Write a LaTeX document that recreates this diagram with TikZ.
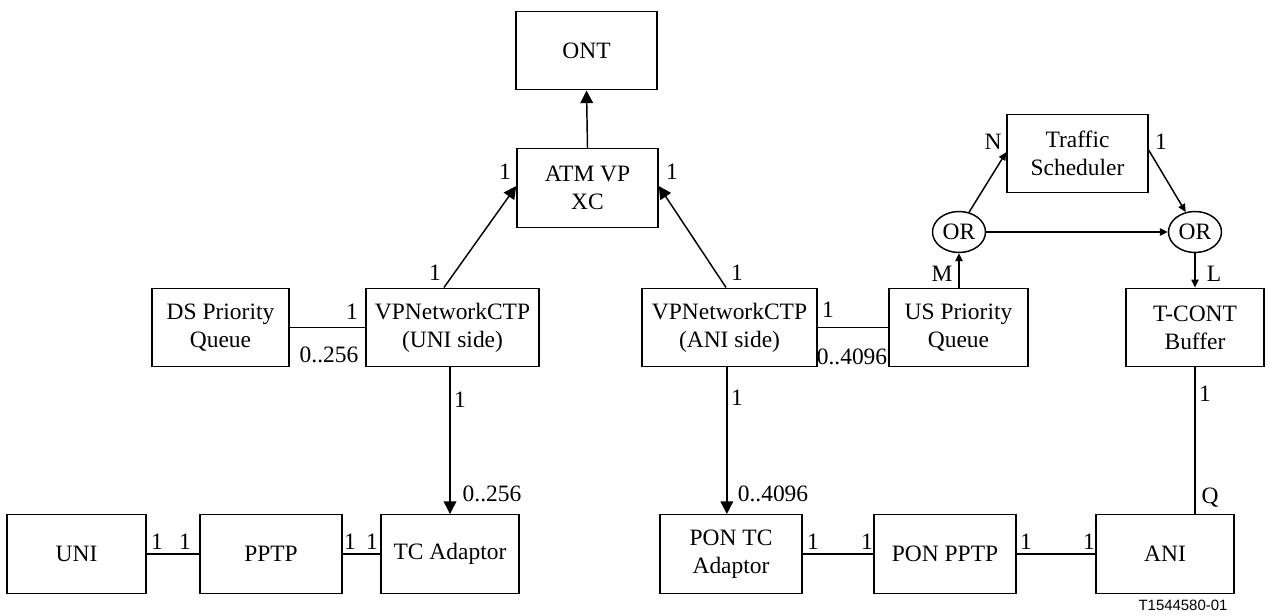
\documentclass[tikz,border=0pt]{standalone}
\usepackage{fontspec}
\setmainfont{Liberation Serif}
\newfontfamily\codefont{Liberation Sans}
\usetikzlibrary{arrows.meta,shapes.geometric}
\begin{document}
\begin{tikzpicture}[x=0.75pt,y=-0.75pt,
  every node/.style={font=\fontsize{17.6}{20.8}\selectfont, inner sep=0pt},
  box/.style={draw, line width=1.1pt, align=center, minimum width=#1*0.75pt, minimum height=78.5*0.75pt},
  gate/.style={draw, ellipse, line width=1.1pt, minimum width=53*0.75pt, minimum height=41*0.75pt},
  lbl/.style={anchor=center},
  conn/.style={line width=1.1pt},
  bigarrow/.style={line width=1.1pt, -{Triangle[length=9.5pt,width=9.5pt]}},
  smallarrow/.style={line width=1.1pt, -{Triangle[length=6pt,width=5.5pt]}}]
\useasboundingbox (0,0) rectangle (1269,616);
% boxes
\node[box=141] (ont) at (586.5,50.5) {ONT};
\node[box=141] (atm) at (587.5,188) {ATM VP\\XC};
\node[box=137] (ds) at (220.5,327.5) {DS Priority\\Queue};
\node[box=173] (vpnu) at (452.5,327.5) {VPNetworkCTP\\(UNI side)};
\node[box=175] (vpna) at (729.5,327.5) {VPNetworkCTP\\(ANI side)};
\node[box=139] (uspq) at (958.5,327.5) {US Priority\\Queue};
\node[box=138] (tcont) at (1195,327.5) {T-CONT\\Buffer};
\node[box=141] (ts) at (1077.5,153.5) {Traffic\\Scheduler};
\node[gate] (or1) at (959,232) {OR};
\node[gate] (or2) at (1195,232) {OR};
\node[box=139] (uni) at (76.5,554) {UNI};
\node[box=142] (pptp) at (271,554) {PPTP};
\node[box=138] (tc) at (450,554) {TC Adaptor};
\node[box=142] (pontc) at (731,554) {PON TC\\Adaptor};
\node[box=142] (ponpptp) at (945,554) {PON PPTP};
\node[box=138] (ani) at (1165,554) {ANI};
% connectors
\draw[bigarrow] (atm.north) -- (ont.south);
\draw[bigarrow] ([xshift=-6.4pt]vpnu.north) -- ([yshift=1.5pt]atm.west);
\draw[bigarrow] ([xshift=-2.6pt]vpna.north) -- ([yshift=1.5pt]atm.east);
\draw[conn] (ds.east) -- (vpnu.west);
\draw[bigarrow] (tc.north |- vpnu.south) -- (tc.north);
\draw[conn] (vpna.east) -- (uspq.west);
\draw[bigarrow] ([xshift=-2pt]vpna.south) -- ([xshift=-2pt]vpna.south |- pontc.north);
\draw[smallarrow] (uspq.north -| or1.south) -- (or1.south);
\draw[smallarrow] (or1.63) -- ([yshift=1pt]ts.west);
\draw[smallarrow] ([yshift=2.5pt]ts.east) -- (or2.115);
\draw[smallarrow] (or1.east) -- (or2.west);
\draw[smallarrow] (or2.south) -- (tcont.north);
\draw[conn] (tcont.south) -- (tcont.south |- ani.north);
\draw[conn] (uni.east) -- (pptp.west);
\draw[conn] (pptp.east) -- (tc.west);
\draw[conn] (pontc.east) -- (ponpptp.west);
\draw[conn] (ponpptp.east) -- (ani.west);
% multiplicity labels
\node[lbl] (l1) at (505,172) {1};
\node[lbl] (l2) at (672,172) {1};
\node[lbl] (l3) at (435,273) {1};
\node[lbl] (l4) at (737,273) {1};
\node[lbl] (l5) at (352,312) {1};
\node[lbl] (l6) at (329,355) {0..256};
\node[lbl] (l7) at (460,400) {1};
\node[lbl] (l8) at (492,494) {0..256};
\node[lbl] (l9) at (828,310) {1};
\node[lbl] (l10) at (852,357) {0..4096};
\node[lbl] (l11) at (737,398) {1};
\node[lbl] (l12) at (773,494) {0..4096};
\node[lbl] (l13) at (942,274) {M};
\node[lbl] (l14) at (1214,274) {L};
\node[lbl] (l15) at (993,142) {N};
\node[lbl] (l16) at (1161,142) {1};
\node[lbl] (l17) at (1205,394) {1};
\node[lbl] (l18) at (1210,498) {Q};
\node[lbl] (l19) at (157,542) {1};
\node[lbl] (l20) at (185,542) {1};
\node[lbl] (l21) at (350,542) {1};
\node[lbl] (l22) at (372,542) {1};
\node[lbl] (l23) at (813,542) {1};
\node[lbl] (l24) at (867,542) {1};
\node[lbl] (l25) at (1026,542) {1};
\node[lbl] (l26) at (1089,542) {1};
\node[font=\codefont\fontsize{11.2}{13}\selectfont] (fig) at (1183,605) {T1544580-01};
\end{tikzpicture}
\end{document}
